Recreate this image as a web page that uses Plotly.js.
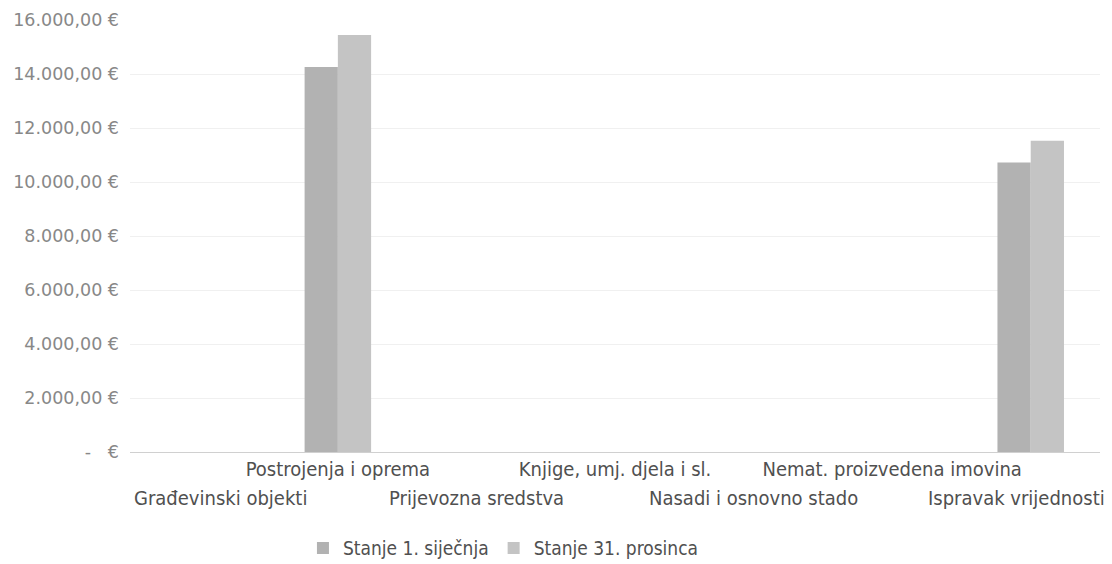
<!DOCTYPE html>
<html>
<head>
<meta charset="utf-8">
<script src="https://cdn.plot.ly/plotly-3.0.1.min.js"></script>
<style>html,body{margin:0;padding:0;background:#fff;}#chart{width:1112px;height:564px;}</style>
</head>
<body>
<div id="chart"></div>
<script>
const categories = ["Građevinski objekti","Postrojenja i oprema","Prijevozna sredstva","Knjige, umj. djela i sl.","Nasadi i osnovno stado","Nemat. proizvedena imovina","Ispravak vrijednosti"];
const seriesNames = ["Stanje 1. siječnja","Stanje 31. prosinca"];
const stanje1 = [0, 14260, 0, 0, 0, 0, 10720];
const stanje31 = [0, 15440, 0, 0, 0, 0, 11530];
const yTickVals = [0,2000,4000,6000,8000,10000,12000,14000,16000];
const yTickText = ["-   €","2.000,00 €","4.000,00 €","6.000,00 €","8.000,00 €","10.000,00 €","12.000,00 €","14.000,00 €","16.000,00 €"];

// staggered category labels: odd index on upper row (axis ticks), even index on lower row (annotations)
const upperRow = categories.map((c,i)=> i%2===1 ? c : "");
const lowerRow = categories.filter((c,i)=> i%2===0);

const labelFont = {family:"'Liberation Sans Narrow', 'DejaVu Sans Condensed', Arial, sans-serif", size:20, color:"#505050"};

const traces = [
  {type:"bar", name:seriesNames[0], x:categories, y:stanje1, marker:{color:"#b2b2b2"}},
  {type:"bar", name:seriesNames[1], x:categories, y:stanje31, marker:{color:"#c4c4c4"}}
];
const layout = {
  width:1112, height:564,
  margin:{l:130, r:12, t:20, b:112, autoexpand:false},
  paper_bgcolor:"#fff", plot_bgcolor:"#fff",
  barmode:"group", bargap:0.52, bargroupgap:0,
  font:labelFont,
  xaxis:{type:"category", range:[-0.5, categories.length-0.5], autorange:false,
         tickmode:"array", tickvals:categories, ticktext:upperRow,
         tickangle:0, showgrid:false, zeroline:false, showline:false, ticks:"",
         automargin:false, ticklabelstandoff:3, tickfont:labelFont},
  yaxis:{range:[0,16000], autorange:false, tickmode:"array", tickvals:yTickVals, ticktext:yTickText,
         showgrid:true, gridcolor:"#f0f0f0", gridwidth:1, zeroline:true, zerolinecolor:"#d0d0d0",
         showline:false, ticks:"", ticklabelstandoff:10, automargin:false,
         tickfont:{family:"'DejaVu Sans', Verdana, sans-serif", size:17.5, color:"#888"}},
  annotations: lowerRow.map((c,i)=>{
    const first = i===0, last = i===lowerRow.length-1;
    return {x:c, xref:"x", y:0, yref:"paper", yshift:-46, text:c, showarrow:false, font:labelFont,
            xanchor:last?"right":(first?"left":"center"), xshift:last?76:(first?-67:0), yanchor:"middle"};
  }),
  legend:{orientation:"h", x:0.385, xanchor:"center", yref:"container", y:0.028, yanchor:"middle",
          font:{family:labelFont.family, size:19, color:"#505050"}},
  showlegend:true
};
Plotly.newPlot("chart", traces, layout, {displayModeBar:false, staticPlot:true});
</script>
</body>
</html>
